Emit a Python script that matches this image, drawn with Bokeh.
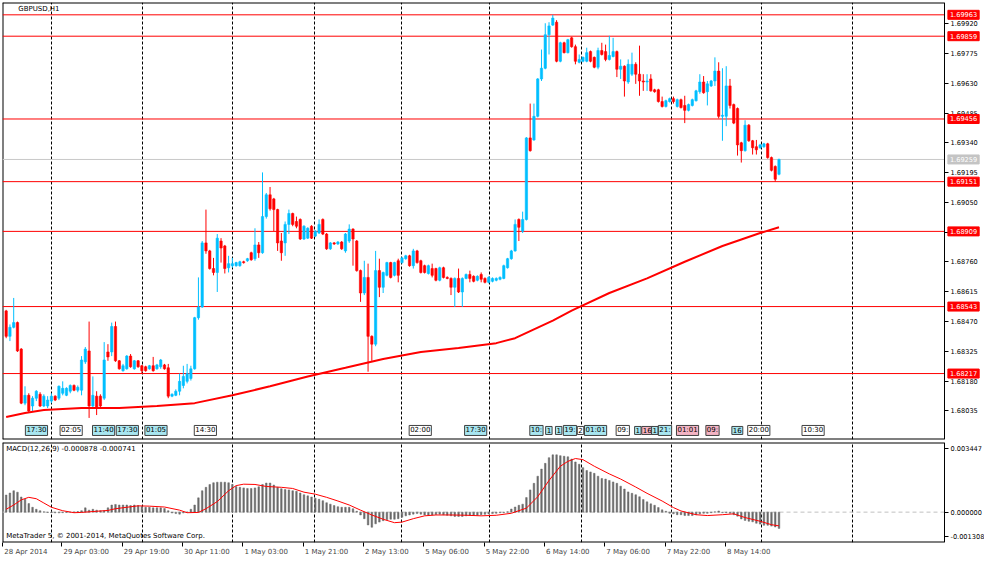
from bokeh.plotting import figure
from bokeh.models import (Range1d, FixedTicker, Label, Grid, PrintfTickFormatter,
                          ColumnDataSource, LinearAxis)
from bokeh.layouts import column
from bokeh.embed import file_html
from bokeh.resources import INLINE
from bokeh.core.properties import value

# ---------------- data: GBPUSD H1 candles (28 Apr - 8 May 2014) ----------------
opens = [
 1.68522, 1.68398, 1.68442, 1.68465, 1.68336, 1.68073, 1.68111, 1.68059, 1.68097, 1.68116,
 1.68059, 1.68059, 1.68083, 1.68107, 1.68097, 1.68121, 1.68111, 1.68131, 1.68159, 1.68136,
 1.68136, 1.68274, 1.68327, 1.68059, 1.68107, 1.68107, 1.68097, 1.68322, 1.68322, 1.68446,
 1.68279, 1.68231, 1.68240, 1.68302, 1.68240, 1.68279, 1.68255, 1.68250, 1.68240, 1.68255,
 1.68240, 1.68250, 1.68259, 1.68245, 1.68107, 1.68111, 1.68131, 1.68159, 1.68179, 1.68193,
 1.68240, 1.68489, 1.68541, 1.68853, 1.68814, 1.68728, 1.68709, 1.68862, 1.68838, 1.68732,
 1.68742, 1.68742, 1.68742, 1.68761, 1.68766, 1.68805, 1.68776, 1.68843, 1.68805, 1.68981,
 1.69087, 1.69067, 1.69015, 1.68862, 1.68853, 1.68943, 1.68996, 1.68957, 1.68967, 1.68872,
 1.68876, 1.68934, 1.68886, 1.68901, 1.68967, 1.68896, 1.68824, 1.68853, 1.68848, 1.68857,
 1.68814, 1.68862, 1.68920, 1.68862, 1.68718, 1.68609, 1.68685, 1.68398, 1.68360, 1.68718,
 1.68637, 1.68695, 1.68757, 1.68695, 1.68766, 1.68757, 1.68776, 1.68790, 1.68742, 1.68814,
 1.68766, 1.68742, 1.68704, 1.68728, 1.68728, 1.68671, 1.68732, 1.68685, 1.68680, 1.68637,
 1.68680, 1.68614, 1.68680, 1.68699, 1.68690, 1.68671, 1.68699, 1.68680, 1.68661, 1.68666,
 1.68671, 1.68676, 1.68680, 1.68732, 1.68776, 1.68814, 1.68967, 1.68910, 1.68967, 1.69364,
 1.69354, 1.69469, 1.69651, 1.69703, 1.69866, 1.69913, 1.69927, 1.69737, 1.69827, 1.69779,
 1.69851, 1.69808, 1.69732, 1.69737, 1.69737, 1.69784, 1.69756, 1.69708, 1.69789, 1.69784,
 1.69746, 1.69760, 1.69784, 1.69698, 1.69713, 1.69636, 1.69674, 1.69722, 1.69674, 1.69641,
 1.69636, 1.69651, 1.69598, 1.69598, 1.69541, 1.69517, 1.69541, 1.69555, 1.69517, 1.69550,
 1.69522, 1.69498, 1.69522, 1.69545, 1.69589, 1.69636, 1.69589, 1.69617, 1.69641, 1.69689,
 1.69469, 1.69469, 1.69617, 1.69526, 1.69507, 1.69340, 1.69302, 1.69426, 1.69350, 1.69321,
 1.69316, 1.69321, 1.69335, 1.69268, 1.69225, 1.69187]
highs = [
 1.68527, 1.68456, 1.68585, 1.68470, 1.68341, 1.68155, 1.68121, 1.68107, 1.68136, 1.68126,
 1.68116, 1.68107, 1.68121, 1.68111, 1.68159, 1.68179, 1.68150, 1.68164, 1.68164, 1.68159,
 1.68302, 1.68346, 1.68470, 1.68203, 1.68131, 1.68116, 1.68370, 1.68360, 1.68465, 1.68470,
 1.68283, 1.68264, 1.68307, 1.68312, 1.68283, 1.68283, 1.68259, 1.68255, 1.68259, 1.68298,
 1.68264, 1.68288, 1.68264, 1.68264, 1.68121, 1.68140, 1.68217, 1.68255, 1.68264, 1.68255,
 1.68493, 1.68685, 1.68862, 1.69015, 1.68819, 1.68780, 1.68896, 1.68876, 1.68843, 1.68790,
 1.68780, 1.68761, 1.68766, 1.68766, 1.68780, 1.68810, 1.68924, 1.68857, 1.69196, 1.69096,
 1.69125, 1.69072, 1.69019, 1.68901, 1.68957, 1.69015, 1.69000, 1.68981, 1.68972, 1.68939,
 1.68929, 1.68939, 1.68915, 1.68967, 1.68972, 1.68901, 1.68857, 1.68857, 1.68862, 1.68862,
 1.68901, 1.68943, 1.68924, 1.68867, 1.68723, 1.68766, 1.68752, 1.68403, 1.68814, 1.68776,
 1.68713, 1.68761, 1.68761, 1.68761, 1.68776, 1.68785, 1.68795, 1.68795, 1.68824, 1.68819,
 1.68771, 1.68747, 1.68747, 1.68752, 1.68732, 1.68737, 1.68737, 1.68690, 1.68685, 1.68685,
 1.68728, 1.68685, 1.68704, 1.68718, 1.68695, 1.68695, 1.68709, 1.68685, 1.68690, 1.68685,
 1.68685, 1.68690, 1.68747, 1.68780, 1.68819, 1.68967, 1.68972, 1.69005, 1.69368, 1.69531,
 1.69531, 1.69655, 1.69794, 1.69922, 1.69927, 1.69963, 1.69937, 1.69832, 1.69832, 1.69846,
 1.69856, 1.69818, 1.69770, 1.69760, 1.69803, 1.69789, 1.69760, 1.69803, 1.69827, 1.69818,
 1.69861, 1.69851, 1.69789, 1.69746, 1.69717, 1.69746, 1.69779, 1.69732, 1.69813, 1.69674,
 1.69674, 1.69674, 1.69603, 1.69603, 1.69565, 1.69550, 1.69560, 1.69565, 1.69555, 1.69555,
 1.69569, 1.69531, 1.69555, 1.69598, 1.69674, 1.69665, 1.69641, 1.69646, 1.69756, 1.69732,
 1.69703, 1.69713, 1.69651, 1.69531, 1.69512, 1.69345, 1.69450, 1.69431, 1.69354, 1.69354,
 1.69335, 1.69340, 1.69340, 1.69273, 1.69230, 1.69263]
lows = [
 1.68389, 1.68375, 1.68437, 1.68322, 1.68068, 1.68063, 1.68025, 1.68035, 1.68083, 1.68054,
 1.68054, 1.68049, 1.68073, 1.68083, 1.68088, 1.68111, 1.68107, 1.68121, 1.68131, 1.68126,
 1.68111, 1.68264, 1.68001, 1.68049, 1.68015, 1.68049, 1.68088, 1.68279, 1.68302, 1.68274,
 1.68236, 1.68226, 1.68236, 1.68245, 1.68236, 1.68245, 1.68217, 1.68226, 1.68236, 1.68226,
 1.68236, 1.68240, 1.68236, 1.68097, 1.68102, 1.68107, 1.68111, 1.68145, 1.68169, 1.68183,
 1.68236, 1.68479, 1.68537, 1.68800, 1.68723, 1.68695, 1.68614, 1.68757, 1.68704, 1.68709,
 1.68732, 1.68737, 1.68737, 1.68752, 1.68761, 1.68766, 1.68766, 1.68780, 1.68800, 1.68971,
 1.69010, 1.68910, 1.68814, 1.68766, 1.68790, 1.68896, 1.68934, 1.68924, 1.68867, 1.68867,
 1.68872, 1.68872, 1.68881, 1.68896, 1.68891, 1.68819, 1.68819, 1.68843, 1.68843, 1.68819,
 1.68805, 1.68853, 1.68742, 1.68713, 1.68566, 1.68599, 1.68226, 1.68279, 1.68350, 1.68589,
 1.68609, 1.68690, 1.68680, 1.68690, 1.68661, 1.68752, 1.68771, 1.68737, 1.68728, 1.68752,
 1.68704, 1.68704, 1.68699, 1.68685, 1.68666, 1.68666, 1.68680, 1.68676, 1.68599, 1.68541,
 1.68609, 1.68541, 1.68676, 1.68661, 1.68661, 1.68666, 1.68661, 1.68656, 1.68656, 1.68661,
 1.68666, 1.68671, 1.68676, 1.68728, 1.68771, 1.68810, 1.68862, 1.68901, 1.68962, 1.69297,
 1.69350, 1.69464, 1.69641, 1.69698, 1.69770, 1.69909, 1.69732, 1.69732, 1.69775, 1.69775,
 1.69803, 1.69722, 1.69727, 1.69732, 1.69732, 1.69732, 1.69703, 1.69698, 1.69765, 1.69737,
 1.69741, 1.69756, 1.69660, 1.69651, 1.69565, 1.69627, 1.69665, 1.69627, 1.69569, 1.69593,
 1.69593, 1.69589, 1.69584, 1.69536, 1.69512, 1.69512, 1.69536, 1.69531, 1.69512, 1.69507,
 1.69436, 1.69493, 1.69517, 1.69541, 1.69579, 1.69579, 1.69522, 1.69612, 1.69617, 1.69459,
 1.69350, 1.69421, 1.69507, 1.69431, 1.69278, 1.69244, 1.69297, 1.69345, 1.69283, 1.69283,
 1.69311, 1.69316, 1.69263, 1.69201, 1.69151, 1.69182]
closes = [
 1.68398, 1.68442, 1.68465, 1.68327, 1.68073, 1.68111, 1.68035, 1.68097, 1.68131, 1.68059,
 1.68107, 1.68088, 1.68107, 1.68088, 1.68155, 1.68145, 1.68145, 1.68159, 1.68136, 1.68150,
 1.68283, 1.68336, 1.68059, 1.68111, 1.68049, 1.68059, 1.68283, 1.68298, 1.68446, 1.68279,
 1.68240, 1.68255, 1.68302, 1.68250, 1.68279, 1.68250, 1.68231, 1.68231, 1.68255, 1.68231,
 1.68259, 1.68283, 1.68240, 1.68107, 1.68116, 1.68131, 1.68179, 1.68203, 1.68217, 1.68240,
 1.68489, 1.68541, 1.68853, 1.68814, 1.68728, 1.68709, 1.68876, 1.68828, 1.68728, 1.68752,
 1.68752, 1.68757, 1.68761, 1.68757, 1.68776, 1.68771, 1.68843, 1.68805, 1.68981, 1.69087,
 1.69019, 1.69015, 1.68853, 1.68805, 1.68943, 1.68996, 1.68943, 1.68934, 1.68872, 1.68934,
 1.68924, 1.68876, 1.68910, 1.68943, 1.68896, 1.68824, 1.68853, 1.68848, 1.68857, 1.68824,
 1.68896, 1.68920, 1.68872, 1.68718, 1.68609, 1.68685, 1.68398, 1.68360, 1.68718, 1.68637,
 1.68709, 1.68757, 1.68685, 1.68757, 1.68695, 1.68780, 1.68790, 1.68742, 1.68814, 1.68757,
 1.68709, 1.68709, 1.68742, 1.68695, 1.68671, 1.68732, 1.68685, 1.68680, 1.68637, 1.68680,
 1.68614, 1.68680, 1.68699, 1.68680, 1.68666, 1.68690, 1.68676, 1.68661, 1.68685, 1.68680,
 1.68680, 1.68685, 1.68742, 1.68776, 1.68814, 1.68943, 1.68929, 1.68967, 1.69364, 1.69302,
 1.69469, 1.69651, 1.69703, 1.69866, 1.69909, 1.69947, 1.69737, 1.69827, 1.69779, 1.69842,
 1.69808, 1.69737, 1.69746, 1.69756, 1.69779, 1.69737, 1.69708, 1.69789, 1.69770, 1.69746,
 1.69765, 1.69784, 1.69698, 1.69713, 1.69641, 1.69722, 1.69722, 1.69674, 1.69641, 1.69636,
 1.69641, 1.69593, 1.69589, 1.69541, 1.69517, 1.69545, 1.69555, 1.69541, 1.69550, 1.69512,
 1.69498, 1.69526, 1.69550, 1.69593, 1.69636, 1.69584, 1.69627, 1.69641, 1.69689, 1.69469,
 1.69474, 1.69617, 1.69522, 1.69436, 1.69330, 1.69302, 1.69426, 1.69350, 1.69316, 1.69306,
 1.69330, 1.69335, 1.69268, 1.69206, 1.69163, 1.69259]

# moving average (red line on price panel), sampled at bar indices
ma_idx = [0, 5, 10, 20, 30, 40, 50, 60, 70, 80, 90, 100, 110, 120, 130, 135, 140, 145, 150,
          160, 170, 180, 190, 200, 205]
ma_val = [1.68006, 1.68025, 1.68040, 1.68049, 1.68049, 1.68059, 1.68073, 1.68111, 1.68155,
          1.68203, 1.68245, 1.68288, 1.68322, 1.68341, 1.68365, 1.68389, 1.68432, 1.68475,
          1.68523, 1.68609, 1.68680, 1.68761, 1.68838, 1.68901, 1.68929]

# horizontal price levels and current price
levels = [1.69963, 1.69859, 1.69456, 1.69151, 1.68909, 1.68543, 1.68217]
last_price = 1.69259
price_ticks = [1.68035, 1.68180, 1.68325, 1.68470, 1.68615, 1.68760, 1.68905,
               1.69050, 1.69195, 1.69340, 1.69485, 1.69630, 1.69775, 1.69920]

# MACD(12,26,9) main values (histogram) per bar
macd_hist = [
 0.000924, 0.001032, 0.001155, 0.001078, 0.000816, 0.000693, 0.000462, 0.000262, 0.000154, 0.000077,
 0.000015, -0.00002, -0.00003, -0.00004, -0.00004, -0.00003, -0.00002, -0.00001, 0.00001, 0.00003,
 0.000077, 0.000231, 0.000108, 0.000154, 0.000108, 0.000077, 0.000077, 0.000231, 0.000385, 0.000416,
 0.000385, 0.000385, 0.000385, 0.000354, 0.000385, 0.000354, 0.000308, 0.000262, 0.000262, 0.000231,
 0.000231, 0.000231, 0.0002, 0.000077, -0.000046, -0.000077, -0.000108, -0.000046, 0.0, 0.000154,
 0.000385, 0.00077, 0.001155, 0.00134, 0.001494, 0.001586, 0.001617, 0.001617, 0.001617, 0.001586,
 0.001494, 0.001386, 0.00134, 0.001309, 0.001278, 0.001278, 0.001309, 0.001371, 0.001494, 0.001571,
 0.001571, 0.001463, 0.00134, 0.001263, 0.001217, 0.001201, 0.001155, 0.001124, 0.001032, 0.000939,
 0.000878, 0.000816, 0.000755, 0.000693, 0.000616, 0.000508, 0.000431, 0.000354, 0.000293, 0.000262,
 0.000262, 0.000262, 0.000185, 0.000046, -0.000154, -0.000354, -0.000693, -0.000816, -0.000631, -0.000539,
 -0.000462, -0.000416, -0.000385, -0.000385, -0.000354, -0.000277, -0.0002, -0.000154, -0.000108, -0.000077,
 -0.000108, -0.000154, -0.000169, -0.000154, -0.000123, -0.000108, -0.000139, -0.000169, -0.0002, -0.000231,
 -0.000231, -0.000231, -0.0002, -0.000169, -0.000169, -0.000169, -0.00014, -0.00012, -0.0001, -0.00008,
 -0.000062, -0.000031, -0.000031, 0.000015, 0.000169, 0.000277, 0.00037, 0.000431, 0.000785, 0.001201,
 0.001555, 0.00194, 0.002325, 0.002633, 0.002941, 0.003095, 0.003095, 0.003049, 0.003018, 0.002988,
 0.002864, 0.00271, 0.002587, 0.002402, 0.002248, 0.002171, 0.002094, 0.00194, 0.001817, 0.001786,
 0.001709, 0.001632, 0.001555, 0.001401, 0.001247, 0.001093, 0.001016, 0.000939, 0.000832, 0.000678,
 0.000554, 0.000447, 0.00037, 0.000246, 0.000123, 0.000046, -0.000062, -0.000092, -0.000139, -0.000139,
 -0.000185, -0.000185, -0.000185, -0.000139, -0.000092, -0.000062, -0.000062, -0.000031, 0.000015, 0.000062,
 -0.000031, -0.000031, -0.000062, -0.000139, -0.000216, -0.00037, -0.000447, -0.000493, -0.000524, -0.000601,
 -0.000647, -0.000709, -0.000709, -0.000755, -0.000801, -0.000878]

# MACD signal line, sampled at bar indices
sig_idx = [0, 2, 4, 6, 8, 10, 12, 15, 18, 20, 24, 27, 29, 32, 35, 38, 42, 46, 48, 51,
           53, 56, 59, 61, 63, 66, 69, 73, 76, 79, 82, 85, 88, 91, 94, 97, 100, 103, 105, 108,
           111, 114, 118, 122, 126, 130, 134, 138, 141, 144, 147, 149, 151, 153, 156, 160, 163, 167, 170, 174,
           177, 179, 183, 186, 190, 193, 196, 200, 203, 205]
sig_val = [0.000154, 0.000385, 0.000662, 0.0008, 0.000724, 0.000493, 0.000262, 0.000077, -0.000031, -0.000015,
           0.000046, 0.000092, 0.000185, 0.000262, 0.000339, 0.000323, 0.000277, 0.000108, -0.000031, -0.000015,
           0.000185, 0.00057, 0.001155, 0.001432, 0.001509, 0.001494, 0.001386, 0.00134, 0.001278, 0.001078,
           0.00097, 0.0008, 0.000601, 0.000385, 0.000108, -0.000154, -0.000385, -0.00057, -0.000539, -0.000354,
           -0.0002, -0.000154, -0.000154, -0.000169, -0.0002, -0.00017, -0.000062, 0.000216, 0.000832, 0.001709,
           0.002479, 0.002741, 0.002895, 0.002834, 0.002479, 0.002064, 0.001786, 0.001355, 0.001016, 0.000601,
           0.000246, 0.000062, -0.000139, -0.000185, -0.000139, -0.000092, -0.000293, -0.000493, -0.000678, -0.000741]
macd_ticks = [-0.001308, 0.0, 0.003447]

# time axis
time_tick_idx = [-0.9, 14.8, 30.8, 46.8, 62.8, 78.8, 94.8, 110.8, 126.8, 142.8, 158.8, 174.8, 190.8]
time_labels = ["28 Apr 2014", "29 Apr 03:00", "29 Apr 19:00", "30 Apr 11:00", "1 May 03:00",
               "1 May 21:00", "2 May 13:00", "5 May 06:00", "5 May 22:00", "6 May 14:00",
               "7 May 06:00", "7 May 22:00", "8 May 14:00"]
day_lines = [12.1, 36.1, 60.0, 81.8, 104.9, 128.2, 152.6, 176.6, 200.4, 224.4]

# economic-calendar event tags
ev_idx = [5.1, 14.3, 22.9, 29.2, 36.8, 49.9, 106.9, 121.6, 138.9, 143.1, 145.7, 147.8,
          151.5, 153.4, 161.8, 166.7, 168.6, 171.2, 173.0, 177.8, 185.6, 192.5, 196.7, 211.1]
ev_text = ["17:30", "02:05", "11:40", "17:30", "01:05", "14:30", "02:00", "17:30", "10:", "1",
           "1", "19:", "2", "01:01", "09:", "1", "16", "1", "21:", "01:01", "09:", "16",
           "20:00", "10:30"]
ev_kind = ["c", "w", "c", "c", "c", "w", "w", "c", "c", "c", "c", "c", "w", "c", "w", "c",
           "p", "c", "c", "p", "p", "c", "w", "w"]

# ---------------- layout / styling ----------------
FONT = "DejaVu Sans"
BULL = "#00BFFF"
BEAR = "#FF0000"
W = 984
H_MAIN = 440
H_MACD = 118
BLEFT = 2
X0 = -0.97          # left edge of the chart area (bar index)
AX = 248.9          # bar index where the price scale sits
DATA_W = 942        # pixels from left edge to the price scale
FRAME_W = W - BLEFT
XR = Range1d(X0, X0 + FRAME_W * (AX - X0) / DATA_W)
YR = Range1d(1.67896, 1.70023)
MR = Range1d(-0.00164, 0.00376)
px_per_idx = DATA_W / (AX - X0)
TICK_FS = "6.6px"

N = len(closes)
idx = list(range(N))
up = [c >= o for o, c in zip(opens, closes)]
src = ColumnDataSource(dict(
    x=idx, o=opens, h=highs, l=lows, c=closes,
    top=[max(o, c) for o, c in zip(opens, closes)],
    bot=[min(o, c) for o, c in zip(opens, closes)],
    col=[BULL if u else BEAR for u in up]))


def base_fig(height, yr, top, bottom, xloc):
    f = figure(width=W, height=height, x_range=XR, y_range=yr, output_backend="svg",
               toolbar_location=None, x_axis_location=xloc, y_axis_location=None,
               min_border_left=BLEFT, min_border_right=0, min_border_top=top,
               min_border_bottom=bottom, background_fill_color="white",
               border_fill_color="white", outline_line_color=None)
    f.xgrid.visible = False
    f.ygrid.visible = False
    f.add_layout(Grid(dimension=0, ticker=FixedTicker(ticks=day_lines),
                      grid_line_color="#000000", grid_line_dash="3 2", grid_line_width=1),
                 "center")
    # panel border (left, top, bottom), stopping at the price scale
    f.segment(x0=[X0, X0, X0], y0=[yr.start, yr.end, yr.start],
              x1=[X0, AX, AX], y1=[yr.end, yr.end, yr.start],
              line_color="#000000", line_width=2)
    return f


def right_axis(f, ticks, fmt):
    a = LinearAxis(ticker=FixedTicker(ticks=ticks), formatter=PrintfTickFormatter(format=fmt),
                   fixed_location=AX)
    a.major_label_text_font = FONT
    a.major_label_text_font_size = TICK_FS
    a.major_label_text_color = "#000000"
    a.major_tick_out = 4
    a.major_tick_in = 0
    a.minor_tick_line_color = None
    a.axis_line_color = "#000000"
    a.major_label_standoff = 2
    f.add_layout(a, "right")
    return a


# ---------------- price panel ----------------
p = base_fig(H_MAIN, YR, 2, 1, None)

p.segment(x0=[X0] * len(levels), y0=levels, x1=[AX] * len(levels), y1=levels,
          line_color="#FF0000", line_width=1)
p.segment(x0=[X0], y0=[last_price], x1=[AX], y1=[last_price], line_color="#C8C8C8",
          line_width=1)

p.segment(x0="x", y0="l", x1="x", y1="h", color="col", line_width=1, source=src)
p.vbar(x="x", top="top", bottom="bot", width=0.62, fill_color="col", line_color="col",
       line_width=0.6, source=src)
p.line(ma_idx, ma_val, line_color="#FF0000", line_width=2)

right_axis(p, price_ticks, "%.5f")

# price boxes on the scale
box_src = ColumnDataSource(dict(
    x=[AX + 0.9] * (len(levels) + 1),
    y=levels + [last_price],
    t=[f"{v:.5f}" for v in levels + [last_price]],
    bg=["#FF0000"] * len(levels) + ["#C4C4C4"]))
boxes = p.text(x="x", y="y", text="t", source=box_src, text_font=value(FONT),
               text_font_size=TICK_FS, text_color="#FFFFFF", text_align="left",
               text_baseline="middle", background_fill_color="bg", border_line_color="bg",
               padding=2)
boxes.level = "overlay"

# event tags
kind_col = {"c": "#A8E6F0", "w": "#FFFFFF", "p": "#F4B4C4"}
ev_src = ColumnDataSource(dict(x=ev_idx, y=[YR.start + 0.00044] * len(ev_idx), t=ev_text,
                               bg=[kind_col[k] for k in ev_kind]))
p.text(x="x", y="y", text="t", source=ev_src, text_font=value(FONT), text_font_size="7px",
       text_align="left", text_baseline="middle", text_color="#000000",
       background_fill_color="bg", border_line_color="#404040", border_line_width=1, padding=1)

p.add_layout(Label(x=3.2, y=YR.end - 0.0001, text="GBPUSD,H1", text_font=FONT,
                   text_font_size="7px", text_color="#000000", text_baseline="top"))

# ---------------- MACD panel ----------------
p2 = base_fig(H_MACD, MR, 2, 0, "below")
p2.segment(x0=[X0], y0=[0], x1=[AX], y1=[0], line_color="#C0C0C0", line_dash="4 3",
           line_width=1)
p2.vbar(x=idx, top=macd_hist, bottom=0, width=0.42, fill_color="#6A6A6A",
        line_color="#6A6A6A", line_width=0.5)
p2.line(sig_idx, sig_val, line_color="#FF0000", line_width=1)

right_axis(p2, macd_ticks, "%.6f")

CW = {c: 0.636 for c in "0123456789"}
CW.update({" ": 0.318, ":": 0.337, "A": 0.684, "p": 0.635, "r": 0.411, "M": 0.863,
           "a": 0.613, "y": 0.592})


def text_w(s, fs):
    return sum(CW.get(ch, 0.6) for ch in s) * fs


centers = [round(t + (1.5 + text_w(s, 7) / 2) / px_per_idx, 3)
           for t, s in zip(time_tick_idx, time_labels)]
axx = p2.xaxis[0]
axx.ticker = FixedTicker(ticks=centers, minor_ticks=time_tick_idx)
axx.major_label_overrides = {c: s for c, s in zip(centers, time_labels)}
axx.major_tick_line_color = None
axx.major_tick_out = 4
axx.major_tick_in = 0
axx.minor_tick_line_color = "#000000"
axx.minor_tick_out = 4
axx.minor_tick_in = 0
axx.axis_line_color = None
axx.major_label_text_font = FONT
axx.major_label_text_font_size = "7px"
axx.major_label_standoff = 1

p2.add_layout(Label(x=0.0, y=MR.end - 0.00012, text="MACD(12,26,9) -0.000878 -0.000741",
                    text_font=FONT, text_font_size="7px", text_color="#000000",
                    text_baseline="top"))
p2.add_layout(Label(x=0.0, y=MR.start + 0.00012,
                    text="MetaTrader 5, \u00a9 2001-2014, MetaQuotes Software Corp.",
                    text_font=FONT, text_font_size="7px", text_color="#000000",
                    text_baseline="bottom"))

layout = column(p, p2, spacing=0)
open("out.html", "w").write(file_html(layout, INLINE))
